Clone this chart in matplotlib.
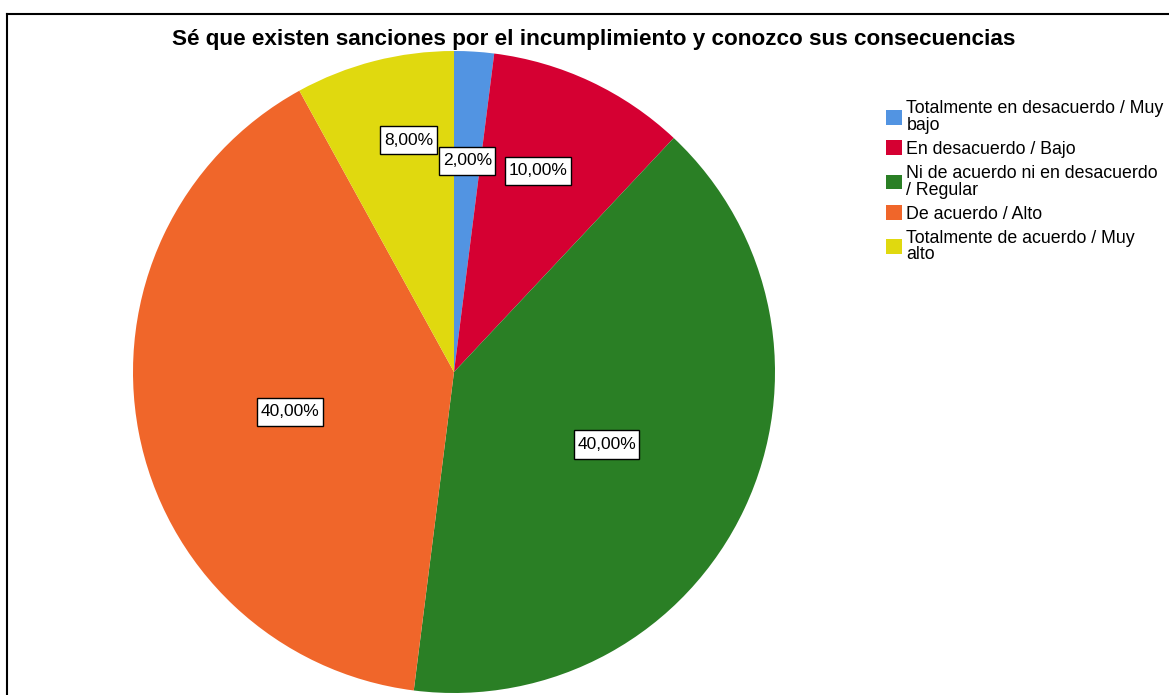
import textwrap
import numpy as np
import matplotlib
matplotlib.use("Agg")
import matplotlib.pyplot as plt
from matplotlib.lines import Line2D
from matplotlib.path import Path

title = "Sé que existen sanciones por el incumplimiento y conozco sus consecuencias"
categories = [
    "Totalmente en desacuerdo / Muy bajo",
    "En desacuerdo / Bajo",
    "Ni de acuerdo ni en desacuerdo / Regular",
    "De acuerdo / Alto",
    "Totalmente de acuerdo / Muy alto",
]
values = [2.0, 10.0, 40.0, 40.0, 8.0]
colors = ["#5294E2", "#D50032", "#2A7F25", "#F0662A", "#E0D90F"]
label_radius = [0.659, 0.679, 0.526, 0.526, 0.736]
label_angle_offset = [0.0, 2.5, -0.2, 2.9, -3.3]

plt.rcParams['font.family'] = ['Liberation Sans', 'DejaVu Sans']


def label_box(x0, y0, width, height, mutation_size):
    px = 0.2 * mutation_size
    py = 0.38 * mutation_size
    x0, y0 = x0 - px, y0 - py
    x1, y1 = x0 + width + 2 * px, y0 + height + 2 * py
    return Path([(x0, y0), (x1, y0), (x1, y1), (x0, y1), (x0, y0)], closed=True)


W, H = 1169, 695
fig = plt.figure(figsize=(W / 100, H / 100), dpi=100)

cx, cy, r = 454, 372, 321
ax = fig.add_axes([(cx - r) / W, (H - cy - r) / H, 2 * r / W, 2 * r / H])
wedges, _ = ax.pie(values, colors=colors, startangle=90, counterclock=False,
                   radius=1, wedgeprops=dict(linewidth=0))
ax.set_xlim(-1, 1)
ax.set_ylim(-1, 1)
ax.axis('off')

for w, v, lr, da in zip(wedges, values, label_radius, label_angle_offset):
    ang = np.deg2rad((w.theta1 + w.theta2) / 2 + da)
    ax.text(lr * np.cos(ang), lr * np.sin(ang), f"{v:.2f}%".replace('.', ','),
            ha='center', va='center', fontsize=12.5,
            bbox=dict(boxstyle=label_box, fc='white', ec='black', lw=1))

fig.text(594 / W, 1 - 45 / H, title, ha='center', va='baseline',
         fontsize=16.2, fontweight='bold')

labels = [textwrap.fill(c, 30) for c in categories]
leg = fig.legend(wedges, labels, loc='upper left',
                 bbox_to_anchor=(886 / W, 1 - 100 / H), frameon=False,
                 fontsize=12.8, handlelength=0.9, handleheight=0.9,
                 handletextpad=0.25, labelspacing=0.38, borderpad=0,
                 borderaxespad=0)
for t in leg.get_texts():
    t.set_linespacing(0.98)

# border
fig.add_artist(Line2D([6.5 / W, 6.5 / W], [0, 1 - 13.5 / H], transform=fig.transFigure,
                      color='black', lw=1.5))
fig.add_artist(Line2D([6.5 / W, 1], [1 - 13.5 / H, 1 - 13.5 / H], transform=fig.transFigure,
                      color='black', lw=1.5))

fig.savefig("out.png", dpi=100)
